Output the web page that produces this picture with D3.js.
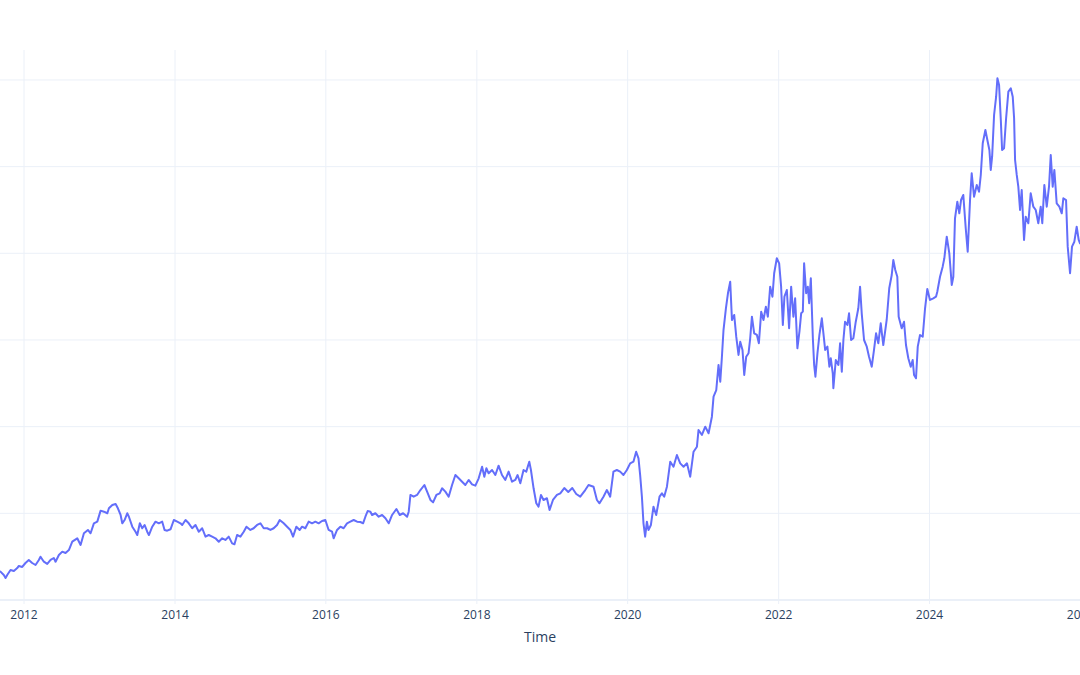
<!DOCTYPE html>
<html>
<head>
<meta charset="utf-8">
<script src="https://cdn.jsdelivr.net/npm/d3@7"></script>
<style>
  html, body { margin: 0; padding: 0; background: #fff; overflow: hidden; }
  svg { display: block; font-family: "Open Sans", verdana, arial, sans-serif; }
</style>
</head>
<body>
<svg id="chart" width="1080" height="675"></svg>
<script>
// Dates as decimal years
const years = [
2011.642,2011.695,2011.739,2011.762,2011.784,2011.828,2011.872,2011.917,2011.938,2011.983,
2012.026,2012.070,2012.115,2012.159,2012.203,2012.225,2012.269,2012.314,2012.358,2012.401,
2012.424,2012.468,2012.513,2012.556,2012.600,2012.645,2012.711,2012.755,2012.799,2012.852,
2012.887,2012.931,2012.976,2013.020,2013.064,2013.109,2013.130,2013.175,2013.219,2013.249,
2013.285,2013.307,2013.338,2013.373,2013.395,2013.440,2013.483,2013.506,2013.540,2013.572,
2013.603,2013.638,2013.660,2013.705,2013.748,2013.792,2013.837,2013.868,2013.903,2013.947,
2013.991,2014.036,2014.079,2014.102,2014.146,2014.189,2014.234,2014.278,2014.322,2014.367,
2014.411,2014.454,2014.499,2014.543,2014.587,2014.632,2014.675,2014.719,2014.764,2014.795,
2014.830,2014.874,2014.918,2014.954,2015.006,2015.050,2015.095,2015.139,2015.183,2015.228,
2015.272,2015.315,2015.360,2015.395,2015.448,2015.493,2015.536,2015.572,2015.616,2015.660,
2015.691,2015.735,2015.779,2015.824,2015.868,2015.911,2015.956,2016.000,2016.044,2016.089,
2016.110,2016.155,2016.199,2016.242,2016.287,2016.331,2016.375,2016.420,2016.464,2016.499,
2016.530,2016.560,2016.596,2016.618,2016.662,2016.706,2016.751,2016.795,2016.838,2016.883,
2016.940,2016.984,2017.029,2017.082,2017.103,2017.126,2017.169,2017.214,2017.258,2017.311,
2017.347,2017.391,2017.426,2017.470,2017.514,2017.546,2017.589,2017.633,2017.678,2017.722,
2017.766,2017.811,2017.854,2017.898,2017.943,2017.987,2018.031,2018.076,2018.106,2018.133,
2018.163,2018.208,2018.252,2018.295,2018.340,2018.384,2018.428,2018.473,2018.516,2018.547,
2018.583,2018.626,2018.662,2018.702,2018.724,2018.759,2018.795,2018.825,2018.857,2018.891,
2018.936,2018.971,2019.016,2019.069,2019.113,2019.166,2019.219,2019.272,2019.325,2019.378,
2019.444,2019.488,2019.554,2019.599,2019.633,2019.686,2019.731,2019.775,2019.818,2019.863,
2019.907,2019.951,2019.996,2020.040,2020.083,2020.119,2020.150,2020.172,2020.195,2020.216,
2020.238,2020.261,2020.282,2020.314,2020.348,2020.384,2020.428,2020.460,2020.490,2020.526,
2020.570,2020.613,2020.658,2020.702,2020.746,2020.791,2020.834,2020.878,2020.923,2020.944,
2020.989,2021.033,2021.077,2021.121,2021.143,2021.179,2021.209,2021.232,2021.254,2021.275,
2021.307,2021.334,2021.364,2021.387,2021.417,2021.444,2021.474,2021.497,2021.527,2021.550,
2021.576,2021.607,2021.629,2021.652,2021.682,2021.718,2021.744,2021.775,2021.805,2021.837,
2021.863,2021.894,2021.924,2021.947,2021.982,2022.013,2022.039,2022.062,2022.083,2022.115,
2022.145,2022.172,2022.202,2022.225,2022.255,2022.282,2022.305,2022.327,2022.344,2022.371,
2022.393,2022.411,2022.433,2022.460,2022.477,2022.494,2022.521,2022.547,2022.579,2022.600,
2022.623,2022.653,2022.679,2022.698,2022.724,2022.732,2022.764,2022.799,2022.821,2022.844,
2022.865,2022.887,2022.918,2022.940,2022.967,2022.997,2023.029,2023.063,2023.086,2023.108,
2023.139,2023.175,2023.205,2023.241,2023.271,2023.298,2023.328,2023.360,2023.394,2023.439,
2023.473,2023.506,2023.527,2023.553,2023.580,2023.598,2023.638,2023.669,2023.695,2023.726,
2023.758,2023.784,2023.802,2023.828,2023.851,2023.881,2023.917,2023.948,2023.978,2024.013,
2024.057,2024.093,2024.110,2024.146,2024.181,2024.203,2024.235,2024.269,2024.301,2024.322,
2024.344,2024.375,2024.401,2024.424,2024.454,2024.486,2024.512,2024.543,2024.565,2024.596,
2024.632,2024.662,2024.685,2024.711,2024.746,2024.772,2024.799,2024.817,2024.835,2024.861,
2024.888,2024.905,2024.927,2024.950,2024.967,2024.993,2025.020,2025.050,2025.082,2025.108,
2025.126,2025.139,2025.161,2025.182,2025.205,2025.227,2025.258,2025.280,2025.315,2025.346,
2025.381,2025.413,2025.447,2025.479,2025.500,2025.527,2025.559,2025.589,2025.612,2025.638,
2025.660,2025.691,2025.726,2025.758,2025.779,2025.815,2025.837,2025.868,2025.894,2025.925,
2025.956,2025.983,2026.000,2026.050
];
const values = [
3.40,3.21,2.83,2.48,2.83,3.40,3.29,3.63,3.87,3.75,
4.21,4.56,4.21,3.98,4.56,4.94,4.36,4.10,4.56,4.79,
4.36,5.13,5.52,5.37,5.71,6.67,7.06,6.29,7.64,8.02,
7.64,8.79,8.98,10.25,10.13,9.95,10.52,10.90,11.02,10.52,
9.75,8.79,9.17,9.95,9.55,8.40,7.82,7.44,8.79,8.22,
8.60,7.82,7.44,8.40,8.98,8.79,8.98,8.02,7.94,8.10,
9.17,8.98,8.79,8.60,9.17,8.79,8.22,8.60,7.82,8.22,
7.25,7.44,7.25,7.06,6.67,7.06,6.87,7.25,6.48,6.37,
7.44,7.25,7.82,8.40,8.02,8.22,8.60,8.79,8.22,8.22,
8.02,8.22,8.60,9.17,8.79,8.40,8.02,7.25,8.40,8.02,
8.40,8.22,8.98,8.79,8.98,8.79,9.06,9.17,8.02,7.82,
7.06,8.02,8.40,8.22,8.79,8.98,9.17,8.98,8.94,8.79,
9.55,10.21,10.13,9.75,9.95,9.55,9.75,9.37,8.79,9.75,
10.44,9.75,9.95,9.55,10.13,12.06,11.86,12.06,12.63,13.21,
12.44,11.48,11.21,12.06,12.25,12.83,12.44,11.86,13.21,14.36,
13.98,13.59,13.21,13.79,13.29,13.13,13.98,15.32,14.17,15.14,
14.56,14.94,14.36,15.44,14.36,13.79,14.75,13.59,13.79,14.36,
13.41,14.94,14.75,15.90,14.94,12.83,11.10,10.71,12.06,11.48,
11.68,10.33,11.48,12.06,12.25,12.86,12.40,12.86,12.17,11.86,
12.63,13.21,13.01,11.48,11.10,11.86,12.63,11.86,14.75,14.94,
14.75,14.36,14.94,15.71,15.90,17.05,16.29,14.36,11.86,8.79,
7.25,8.98,8.02,8.60,10.71,9.75,11.86,12.25,11.86,13.01,
15.90,15.32,16.67,15.71,15.32,15.71,14.17,17.05,17.63,19.56,
18.98,19.94,19.18,21.09,23.40,24.17,27.06,25.13,28.01,31.09,
33.60,35.33,36.67,32.25,32.83,30.32,28.21,29.75,28.79,25.90,
28.01,28.41,30.14,32.63,30.71,30.52,29.56,33.21,32.25,33.78,
32.63,36.09,34.94,37.64,39.37,38.79,36.09,31.67,34.94,35.71,
31.29,36.09,32.63,34.75,28.98,30.90,33.02,33.21,38.79,35.33,
36.09,34.18,37.06,30.14,27.06,25.71,28.41,30.52,32.44,30.71,
28.79,29.17,26.86,27.83,26.10,24.37,27.63,27.06,29.56,26.28,
29.94,32.05,31.67,33.02,29.94,30.14,32.05,33.60,36.09,33.02,
29.94,29.17,28.01,26.86,28.79,30.71,29.56,31.87,29.36,32.25,
35.91,37.44,39.17,38.02,37.24,32.63,31.29,32.05,29.36,27.83,
26.86,27.63,25.90,25.52,29.17,30.52,30.32,33.60,35.83,34.56,
34.75,34.94,35.51,37.24,38.40,39.37,41.86,39.94,36.29,37.24,
43.98,45.90,44.56,46.09,46.67,42.83,40.13,46.09,49.17,46.47,
47.83,47.05,48.98,52.64,54.17,53.02,51.86,49.56,51.09,55.90,
58.01,60.14,59.36,55.32,51.86,52.06,55.52,58.59,58.98,58.01,
55.52,50.71,48.98,47.63,44.94,47.25,41.48,44.17,43.41,46.87,
45.32,44.94,43.41,45.32,43.41,47.83,45.32,47.63,51.29,47.63,
49.56,45.71,45.32,44.56,46.29,46.09,40.71,37.64,40.71,41.28,
43.01,41.48,41.10,40.90
];
const xTickYears = [2012, 2014, 2016, 2018, 2020, 2022, 2024, 2026];
const yGridValues = [0, 10, 20, 30, 40, 50, 60];
const xTitle = "Time";

function toDate(y) {
  const yr = Math.floor(y);
  const s = Date.UTC(yr, 0, 1), e = Date.UTC(yr + 1, 0, 1);
  return new Date(s + (y - yr) * (e - s));
}
const data = years.map((y, i) => ({ date: toDate(y), value: values[i] }));

const svg = d3.select("#chart");
const W = 1080, H = 675;
const plotTop = 50, plotBottom = 604;

const x = d3.scaleUtc()
  .domain([new Date(Date.UTC(2012, 0, 1)), new Date(Date.UTC(2026, 0, 1))])
  .range([23.5, 1080]);
const y = d3.scaleLinear()
  .domain([-0.52, 63.4])
  .range([plotBottom, plotTop]);

const gridColor = "#EBF0F8";

// vertical grid
const xTicks = xTickYears.map(v => new Date(Date.UTC(v, 0, 1)));
const xAxis = d3.axisBottom(x).tickValues(xTicks).tickSize(-(plotBottom - plotTop)).tickFormat(d3.utcFormat("%Y"));
const gx = svg.append("g").attr("transform", `translate(0,${plotBottom})`).call(xAxis);
gx.select(".domain").remove();
gx.selectAll(".tick line").attr("stroke", gridColor).attr("stroke-width", 1);
gx.selectAll(".tick text")
  .attr("fill", "#2a3f5f")
  .attr("font-size", 12)
  .attr("font-family", '"Open Sans", verdana, arial, sans-serif')
  .attr("dy", null)
  .attr("y", 15);

// horizontal grid
const yAxis = d3.axisLeft(y).tickValues(yGridValues).tickSize(-W).tickFormat("");
const gy = svg.append("g").attr("transform", `translate(${W},0)`).call(d3.axisRight(y).tickValues(yGridValues).tickSize(-W - 10).tickFormat(""));
gy.select(".domain").remove();
gy.selectAll(".tick line")
  .attr("stroke", gridColor)
  .attr("stroke-width", d => d === 0 ? 2 : 1);

// clip
svg.append("clipPath").attr("id", "plotclip")
  .append("rect").attr("x", -50).attr("y", plotTop).attr("width", W + 100).attr("height", plotBottom - plotTop);

const line = d3.line().x(d => x(d.date)).y(d => y(d.value));
svg.append("path")
  .datum(data)
  .attr("clip-path", "url(#plotclip)")
  .attr("fill", "none")
  .attr("stroke", "#636efa")
  .attr("stroke-width", 2)
  .attr("stroke-linejoin", "round")
  .attr("d", line);

// axis title
svg.append("text")
  .attr("x", 540)
  .attr("y", 642)
  .attr("text-anchor", "middle")
  .attr("fill", "#2a3f5f")
  .attr("font-size", 14)
  .attr("font-family", '"Open Sans", verdana, arial, sans-serif')
  .text(xTitle);
</script>
</body>
</html>
